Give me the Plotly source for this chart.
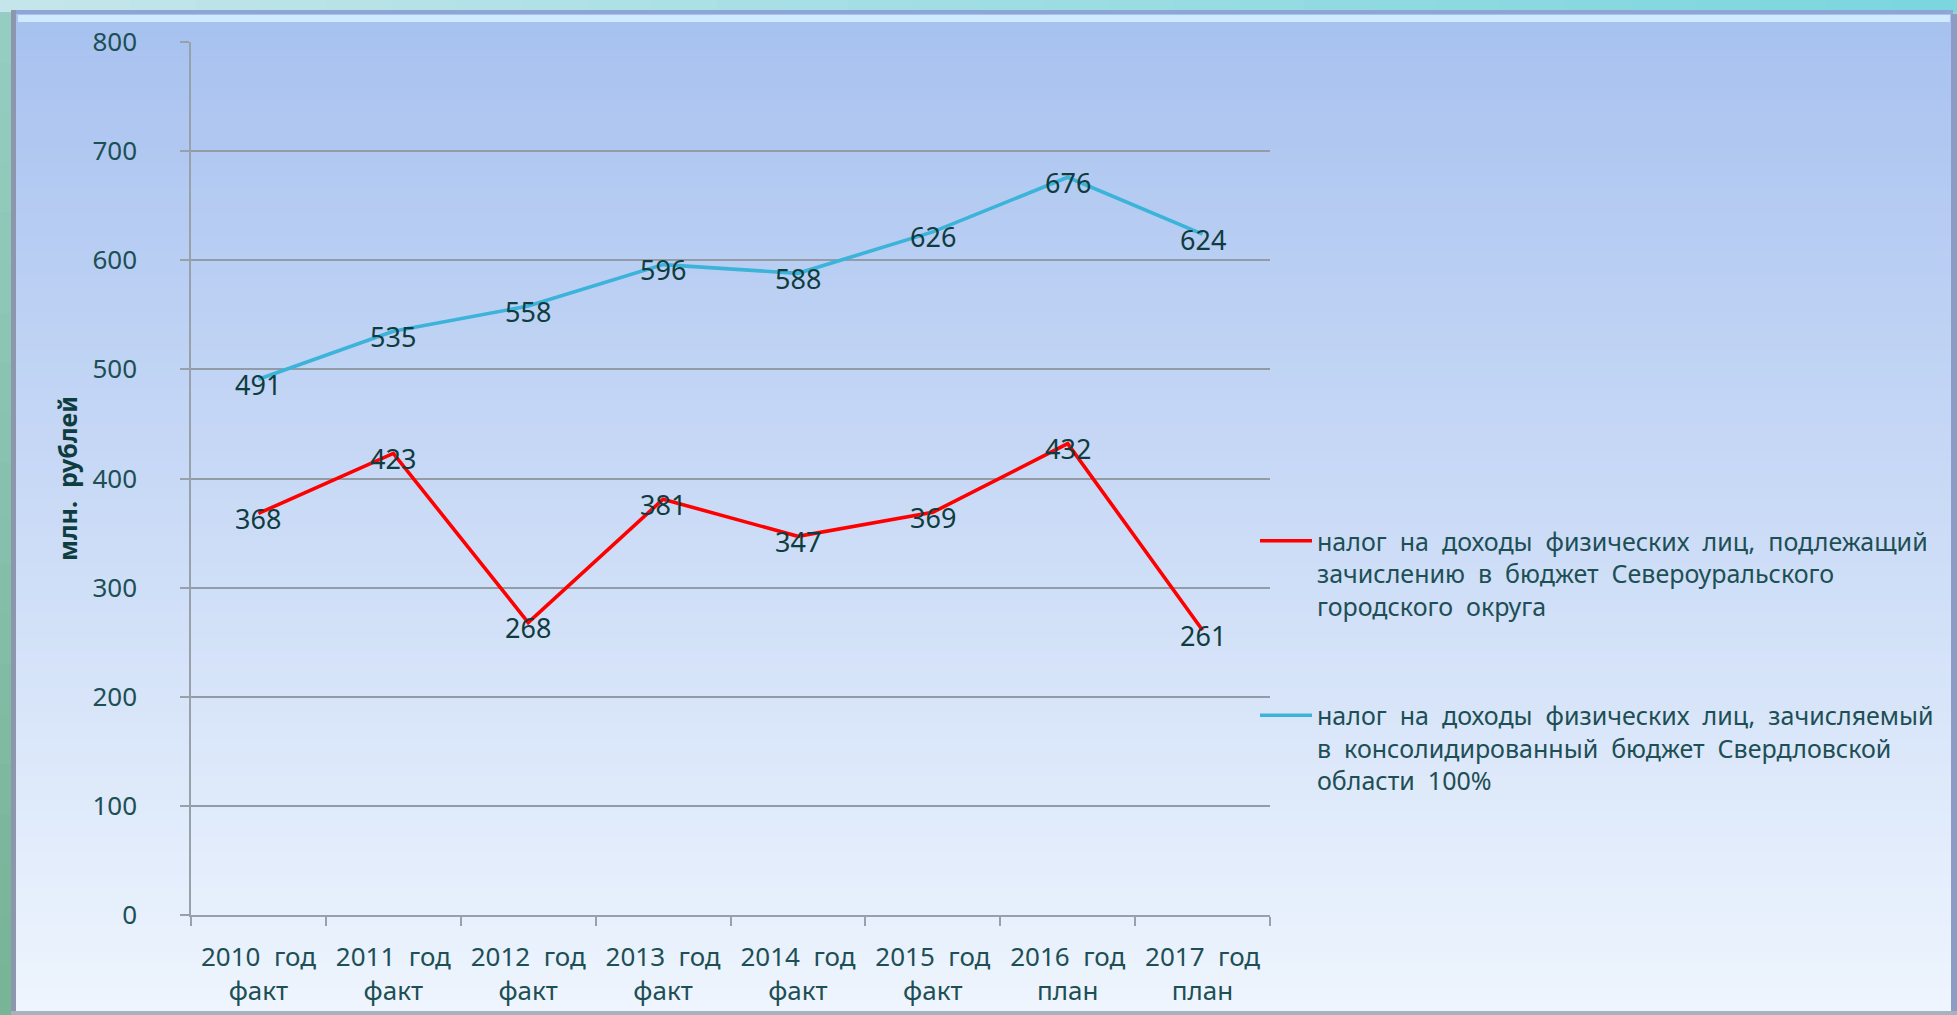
import plotly.graph_objects as go

categories = ["2010 год<br>факт", "2011 год<br>факт", "2012 год<br>факт", "2013 год<br>факт",
              "2014 год<br>факт", "2015 год<br>факт", "2016 год<br>план", "2017 год<br>план"]
local_budget = [368, 423, 268, 381, 347, 369, 432, 261]
regional_budget = [491, 535, 558, 596, 588, 626, 676, 624]
series_names = [
    "налог на доходы физических лиц, подлежащий<br>зачислению в бюджет Североуральского<br>городского округа",
    "налог на доходы физических лиц, зачисляемый<br>в консолидированный бюджет Свердловской<br>области 100%",
]
y_ticks = [0, 100, 200, 300, 400, 500, 600, 700, 800]
y_title = "млн. рублей"

def wide(s, n=1):
    return s.replace(" ", "\u00a0" * n + " ")

W, H = 1957, 1015
L, R, T, B = 191, 1270, 42, 915
PW, PH = R - L, B - T

def px(x):
    return (x - L) / PW

def py(y):
    return (B - y) / PH

FONT = "Noto Sans, Open Sans, sans-serif"
TXT = "#1d4f55"
LBL = "#0f3d3f"

cats = [wide(c) for c in categories]

fig = go.Figure()
fig.add_trace(go.Scatter(
    x=cats, y=local_budget, mode="lines", name=wide(series_names[0], 1),
    line=dict(color="#ff0000", width=3.6), legendgroup="a",
))
fig.add_trace(go.Scatter(
    x=cats, y=regional_budget, mode="lines", name=wide(series_names[1], 1),
    line=dict(color="#3cb3d9", width=3.6), legendgroup="b",
))

annotations = []
for series in (local_budget, regional_budget):
    for c, v in zip(cats, series):
        annotations.append(dict(x=c, y=v, xref="x", yref="y", text=str(v), showarrow=False,
                                yshift=-5, font=dict(family=FONT, size=27, color=LBL)))

shapes = []
# outer backdrop: top strip (horizontal gradient)
n = 30
c0, c1 = (196, 230, 234), (124, 214, 222)
for i in range(n):
    t = i / (n - 1)
    col = "rgb(%d,%d,%d)" % tuple(int(c0[k] + (c1[k] - c0[k]) * t) for k in range(3))
    shapes.append(dict(type="rect", xref="paper", yref="paper", layer="below",
                       x0=px(i * W / n), x1=px((i + 1) * W / n + 1), y0=py(12), y1=py(0),
                       fillcolor=col, line=dict(width=0)))
# left strip (vertical gradient, teal-green)
n = 20
l0, l1 = (150, 205, 195), (120, 180, 150)
for i in range(n):
    t = i / (n - 1)
    col = "rgb(%d,%d,%d)" % tuple(int(l0[k] + (l1[k] - l0[k]) * t) for k in range(3))
    shapes.append(dict(type="rect", xref="paper", yref="paper", layer="below",
                       x0=px(0), x1=px(13), y0=py(12 + (H - 12) * (i + 1) / n + 1),
                       y1=py(12 + (H - 12) * i / n), fillcolor=col, line=dict(width=0)))
# panel vertical gradient
n = 80
top_c, bot_c = (168, 194, 240), (238, 245, 254)
y_top, y_bot = 12, 1013
for i in range(n):
    t = i / (n - 1)
    col = "rgb(%d,%d,%d)" % tuple(int(top_c[k] + (bot_c[k] - top_c[k]) * t) for k in range(3))
    ya = y_top + (y_bot - y_top) * i / n
    yb = y_top + (y_bot - y_top) * (i + 1) / n + 1
    shapes.append(dict(type="rect", xref="paper", yref="paper", layer="below",
                       x0=px(13), x1=px(1953), y0=py(yb), y1=py(ya),
                       fillcolor=col, line=dict(width=0)))
# bevel edges
shapes += [
    dict(type="rect", xref="paper", yref="paper", layer="below",
         x0=px(13), x1=px(1953), y0=py(14), y1=py(10), fillcolor="#8ea6d6", line=dict(width=0)),
    dict(type="rect", xref="paper", yref="paper", layer="below",
         x0=px(18), x1=px(1950), y0=py(22), y1=py(15), fillcolor="#cfeafc", line=dict(width=0)),
    dict(type="rect", xref="paper", yref="paper", layer="below",
         x0=px(11), x1=px(16), y0=py(1013), y1=py(10), fillcolor="#8c97ae", line=dict(width=0)),
    dict(type="rect", xref="paper", yref="paper", layer="below",
         x0=px(1951), x1=px(1957), y0=py(1013), y1=py(14), fillcolor="#8c9cc6", line=dict(width=0)),
    dict(type="rect", xref="paper", yref="paper", layer="below",
         x0=px(11), x1=px(1957), y0=py(1015), y1=py(1011), fillcolor="#a9b1bf", line=dict(width=0)),
]

fig.update_layout(
    width=W, height=H,
    margin=dict(l=L, r=W - R, t=T, b=H - B, autoexpand=False),
    paper_bgcolor="#9fd3cf",
    plot_bgcolor="rgba(0,0,0,0)",
    shapes=shapes,
    annotations=annotations,
    showlegend=True,
    legend=dict(
        x=px(1255), y=py(518), xanchor="left", yanchor="top", valign="top",
        bgcolor="rgba(0,0,0,0)", font=dict(family=FONT, size=25, color=TXT),
        traceorder="grouped", tracegroupgap=74, itemwidth=52,
    ),
    xaxis=dict(
        type="category", range=[-0.5, len(cats) - 0.5], showgrid=False, automargin=False,
        showline=True, linecolor="#98a0aa", linewidth=1.5,
        ticks="outside", tickson="boundaries", ticklen=9, tickcolor="#98a0aa", tickwidth=1.5,
        tickfont=dict(family=FONT, size=26, color=TXT), ticklabelstandoff=18,
        tickangle=0,
    ),
    yaxis=dict(
        range=[0, 800], tickvals=y_ticks, showgrid=True, gridcolor="#939ca6", gridwidth=1.5,
        showline=True, linecolor="#98a0aa", linewidth=1.5, zeroline=False, automargin=False,
        ticks="outside", ticklen=9, tickcolor="#98a0aa", tickwidth=1.5,
        tickfont=dict(family=FONT, size=26, color=TXT), ticklabelstandoff=38,
        title=dict(text=wide(y_title), font=dict(family=FONT, size=25, color=LBL, weight="bold"),
                   standoff=8),
    ),
)

fig.write_html("out.html", config={"displayModeBar": False},
               post_script="document.body.style.margin='0';document.body.style.overflow='hidden';")
